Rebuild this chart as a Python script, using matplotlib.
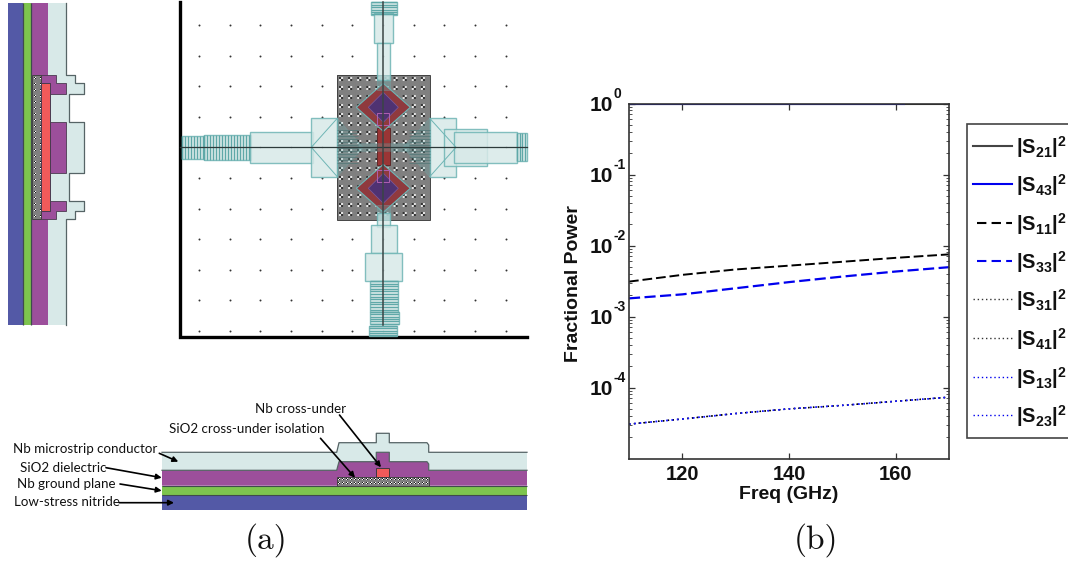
import numpy as np
import matplotlib
matplotlib.use("Agg")
import matplotlib.pyplot as plt
from matplotlib.patches import Polygon, Rectangle

plt.rcParams['mathtext.fontset'] = 'custom'
plt.rcParams['mathtext.bf'] = 'Liberation Sans:bold'
plt.rcParams['mathtext.rm'] = 'Liberation Sans:bold'
plt.rcParams['mathtext.default'] = 'bf'

# --- panel (b) data ---
freq = [110, 120, 130, 140, 150, 160, 170]
s21 = [0.995, 0.995, 0.995, 0.995, 0.995, 0.995, 0.995]
s43_freq = [110, 120, 130, 140, 150, 160, 161.5]
s43 = [0.995, 0.995, 0.995, 0.995, 0.995, 0.995, 0.995]
s11 = [3.1e-3, 3.86e-3, 4.6e-3, 5.2e-3, 5.9e-3, 6.7e-3, 7.5e-3]
s33 = [1.8e-3, 2.05e-3, 2.5e-3, 3.05e-3, 3.65e-3, 4.3e-3, 4.95e-3]
s31 = [3.05e-5, 3.6e-5, 4.3e-5, 5.0e-5, 5.6e-5, 6.4e-5, 7.3e-5]
s41 = [3.05e-5, 3.6e-5, 4.3e-5, 5.0e-5, 5.6e-5, 6.4e-5, 7.3e-5]
s13 = [3.05e-5, 3.6e-5, 4.3e-5, 5.0e-5, 5.6e-5, 6.4e-5, 7.3e-5]
s23 = [3.05e-5, 3.6e-5, 4.3e-5, 5.0e-5, 5.6e-5, 6.4e-5, 7.3e-5]
y_ticks = [1e-4, 1e-3, 1e-2, 1e-1, 1]
y_exponents = ['-4', '-3', '-2', '-1', '0']
legend_names = ['21', '43', '11', '33', '31', '41', '13', '23']
legend_y = [146, 184, 222.7, 261, 299, 338, 376.7, 415]
legend_colors = ['#444444', '#0000ee', 'black', '#0000ee', '#333333', '#333333', '#0000ee', '#0000ee']
legend_styles = ['-', '-', (0, (4.5, 2.5)), (0, (4.5, 2.5)), (0, (1, 2)), (0, (1, 2)), (0, (1, 2)), (0, (1, 2))]

# --- panel (a) colours and labels ---
BLUE = '#5359a6'
GREEN = '#7dc44e'
PURPLE = '#9c4f9b'
RED = '#f15a5a'
PALE = '#d8e9e8'
EDGE = '#566466'
TEAL = '#6fb5b5'

# side cross-section (pixel outlines)
side_pale = [(48, 2.5), (65.5, 2.5), (65.5, 75), (74.5, 75), (74.5, 83), (84, 83), (84, 93.5),
             (68.5, 93.5), (68.5, 121.5), (77, 121.5), (77, 122), (84, 122), (84, 173), (68.5, 173),
             (68.5, 201), (83.5, 201), (83.5, 211), (74.5, 211), (74.5, 219), (65.5, 219),
             (65.5, 325), (48, 325)]
side_purple_top = [(41, 75), (55.5, 75), (55.5, 83), (65.5, 83), (65.5, 93.5), (50, 93.5), (50, 83), (41, 83)]
side_purple_mid = [(50, 122), (65.5, 122), (65.5, 173), (50, 173)]
side_purple_low = [(50, 201), (65.5, 201), (65.5, 211), (55.5, 211), (55.5, 219), (41, 219), (41, 211), (50, 211)]

# bottom cross-section
low_pale = [(162, 452.3), (336.7, 452.3), (339, 442.7), (376.3, 442.7), (376.3, 433.3), (389.3, 433.3),
            (389.3, 442.7), (427, 442.7), (428.7, 445), (428.7, 452.3), (527, 452.3), (527, 470.3), (162, 470.3)]
low_purple = [(162, 470.3), (336.7, 470.3), (339, 461.7), (376.3, 461.7), (376.3, 452.3), (389.3, 452.3),
              (389.3, 461.7), (427, 461.7), (428.7, 464), (428.7, 470.3), (527, 470.3), (527, 485.7), (162, 485.7)]

# top view feed sections (x0, y0, x1, y1)
feed_boxes = [(182, 136, 204.3, 159.3), (204.3, 135.3, 251, 160), (250.3, 132.3, 313.3, 162.7),
              (311.3, 118.3, 337.3, 176.7), (429.7, 118.3, 456, 176.7), (444.3, 129.3, 486.7, 166.3),
              (454.3, 132.3, 516.7, 162.7), (517.3, 133.3, 527, 161.3), (371.3, 2.3, 396.7, 15.3),
              (374.3, 13.3, 392.7, 42.7), (377.3, 42.7, 390, 80), (377.3, 213.3, 390, 226.7),
              (371.3, 225.3, 396.7, 253.3), (365.3, 253.3, 402.3, 281), (370, 281, 398, 311.7),
              (370, 311.7, 398.7, 324), (368.7, 325.7, 396.7, 336)]
vertical_combs = [(182, 136, 204.3, 159.3, 3.0), (204.3, 135.3, 251, 160, 3.0), (517.3, 133.3, 527, 161.3, 2.5)]
horizontal_combs = [(370, 281, 398, 311.7, 2.6), (370, 311.7, 398.7, 324, 2.4), (368.7, 325.7, 396.7, 336, 2.4),
                    (371.3, 2.3, 396.7, 15.3, 2.4)]
diamond_centers = [(383.3, 107.3), (383.3, 188.3)]

# annotations for the bottom cross-section
layer_labels = [('Nb microstrip conductor', 13.3, 449), ('SiO2 dielectric', 19.5, 467.7),
                ('Nb ground plane', 17.3, 484.3), ('Low-stress nitride', 14.3, 501.7),
                ('SiO2 cross-under isolation', 169, 429.3), ('Nb cross-under', 255, 409.3)]
layer_arrows = [((159.3, 453.3), (178.3, 461.7)), ((106, 467.7), (161.7, 477.7)), ((120, 484), (161.7, 490.7)),
                ((119.3, 502.7), (174, 502.7)), ((320.5, 438.3), (355, 477.7)), ((339.5, 415), (381, 467.3))]


def checker(ax, x0, y0, x1, y1, period, cell, dark=0.2, light=0.9):
    # grey patch with little black and white checks, as the layout tool draws it
    tile = np.full((period, period), 0.5)
    start = (period - 2 * cell) // 2
    for i in range(2 * cell):
        for j in range(2 * cell):
            tile[start + i, start + j] = light if (i // cell + j // cell) % 2 else dark
    h = int(round(y1 - y0))
    w = int(round(x1 - x0))
    img = np.tile(tile, (h // period + 1, w // period + 1))
    ax.imshow(img[:h, :w], extent=(x0, x1, y1, y0), cmap='gray', vmin=0, vmax=1,
              interpolation='bilinear', aspect='auto', zorder=3)
    ax.add_patch(Rectangle((x0, y0), x1 - x0, y1 - y0, fill=False, ec='#444444', lw=0.7, zorder=3.1))


def draw_side(ax):
    ax.add_patch(Rectangle((8, 2.5), 14.5, 322.5, fc=BLUE, ec='none', zorder=2))
    ax.add_patch(Rectangle((31, 2.5), 17, 322.5, fc=PURPLE, ec='none', zorder=2))
    ax.add_patch(Rectangle((22.5, 2.5), 8.5, 322.5, fc=GREEN, ec='none', zorder=2))
    ax.vlines([22.5, 31], 2.5, 325, color='#3f4a4c', lw=0.9, zorder=2.1)
    ax.add_patch(Polygon(side_pale, fc=PALE, ec='none', zorder=2))
    xs, ys = zip(*side_pale[1:-1])
    ax.plot(xs, ys, color=EDGE, lw=0.9, zorder=2.1)
    for outline in [side_purple_top, side_purple_mid, side_purple_low]:
        ax.add_patch(Polygon(outline, fc=PURPLE, ec='#4a3a50', lw=0.6, zorder=2.5))
    checker(ax, 32, 75, 41, 219, 6, 1, dark=0.1, light=1.0)
    ax.add_patch(Rectangle((41, 83), 9, 128, fc=RED, ec='#4a3a50', lw=0.7, zorder=4))


def draw_top(ax):
    ax.plot([180, 180, 527], [2, 337, 337], color='black', lw=2.4, zorder=2, solid_joinstyle='miter')
    dots_x = [199 + 30.67 * i for i in range(11)]
    dots_y = [25 + 30.6 * i for i in range(11)]
    gx, gy = np.meshgrid(dots_x, dots_y)
    ax.scatter(gx.ravel(), gy.ravel(), s=2.0, color='#333333', lw=0, zorder=2)
    checker(ax, 337.3, 75, 429.7, 219.7, 9, 2)

    # capacitor pads and the cross-under strip
    ax.add_patch(Rectangle((377.3, 128), 12.7, 37, fc='#9a3535', ec='#5a2020', lw=0.6, zorder=4))
    for cx, cy in diamond_centers:
        ax.add_patch(Polygon([(cx - 27, cy), (cx, cy - 24), (cx + 27, cy), (cx, cy + 24)],
                             fc='#8f3a3e', ec=TEAL, lw=0.8, zorder=4))
        ax.add_patch(Polygon([(cx - 15, cy), (cx, cy - 15), (cx + 15, cy), (cx, cy + 15)],
                             fc='#4f3272', ec='#7a5aa0', lw=0.5, zorder=4.1))
        ax.add_patch(Rectangle((cx - 6, cy + (6 if cy < 150 else -18)), 12, 12, fc='none',
                               ec='#b060b0', lw=0.7, zorder=4.2))

    # microstrip sections on top, see-through
    for x0, y0, x1, y1 in feed_boxes:
        ax.add_patch(Rectangle((x0, y0), x1 - x0, y1 - y0, fc=PALE, ec=TEAL, lw=1.0, alpha=0.85, zorder=5))
    for x0, y0, x1, y1, step in vertical_combs:
        ax.vlines(np.arange(x0, x1, step), y0, y1, color='#5fa8a8', lw=1.0, zorder=5.1)
    for x0, y0, x1, y1, step in horizontal_combs:
        ax.hlines(np.arange(y0, y1, step), x0, x1, color='#5fa8a8', lw=1.0, zorder=5.1)

    # tapers running in over the grey patch
    ax.add_patch(Polygon([(337.3, 118.3), (363, 147.3), (337.3, 176.7)], fc=TEAL, ec=TEAL, lw=0.7, alpha=0.25, zorder=5))
    ax.add_patch(Polygon([(429.7, 118.3), (403, 147.3), (429.7, 176.7)], fc=TEAL, ec=TEAL, lw=0.7, alpha=0.25, zorder=5))
    ax.hlines(np.arange(130, 166, 3), 337.3, 358, color='#4f7575', lw=0.6, alpha=0.8, zorder=5.1)
    ax.hlines(np.arange(130, 166, 3), 409, 429.7, color='#4f7575', lw=0.6, alpha=0.8, zorder=5.1)
    ax.add_patch(Rectangle((358, 143), 51, 8, fc=TEAL, ec='#4f8585', lw=0.5, alpha=0.3, zorder=5))
    ax.plot([337.3, 311.3, 337.3], [118.3, 147.3, 176.7], color=TEAL, lw=0.7, zorder=5.2)
    ax.plot([429.7, 456, 429.7], [118.3, 147.3, 176.7], color=TEAL, lw=0.7, zorder=5.2)
    ax.add_patch(Rectangle((377.3, 75), 12.7, 15, fc=TEAL, ec=TEAL, lw=0.7, alpha=0.3, zorder=5))
    ax.add_patch(Rectangle((377.3, 205), 12.7, 15, fc=TEAL, ec=TEAL, lw=0.7, alpha=0.3, zorder=5))

    # centre lines
    ax.plot([180, 527], [147.2, 147.2], color='#2c3a3a', lw=0.9, zorder=6)
    ax.plot([383, 383], [2, 325], color='#3a4545', lw=1.1, zorder=6)


def draw_bottom(ax):
    ax.add_patch(Rectangle((162, 495.3), 365, 14.7, fc=BLUE, ec='none', zorder=2))
    ax.add_patch(Rectangle((162, 485.7), 365, 9.6, fc=GREEN, ec='none', zorder=2))
    ax.hlines([485.7, 495.3], 162, 527, color='#3f4a4c', lw=0.8, zorder=2.3)
    ax.add_patch(Polygon(low_pale, fc=PALE, ec='none', zorder=2))
    xs, ys = zip(*low_pale[:-2])
    ax.plot(xs, ys, color=EDGE, lw=0.9, zorder=2.1)
    ax.add_patch(Polygon(low_purple, fc=PURPLE, ec='none', zorder=2.2))
    xs, ys = zip(*low_purple[:-2])
    ax.plot(xs, ys, color=EDGE, lw=0.9, zorder=2.3)
    checker(ax, 336.7, 476.7, 428.7, 485.7, 4, 1, dark=0.1, light=1.0)
    ax.add_patch(Rectangle((376.3, 467.7), 13, 9, fc=RED, ec='#3f3a40', lw=0.7, zorder=4))
    for text, x, y in layer_labels:
        ax.text(x, y, text, fontsize=9.6, family='Lato', color='#111111', va='center', ha='left', zorder=7)
    for start, end in layer_arrows:
        ax.annotate('', xy=end, xytext=start, zorder=7,
                    arrowprops=dict(arrowstyle='-|>', color='black', lw=1.2, mutation_scale=8, shrinkA=0, shrinkB=0))


fig = plt.figure(figsize=(10.68, 5.61), dpi=100)

# whole figure axes in pixels for the layout drawings
bg = fig.add_axes([0, 0, 1, 1])
bg.axis('off')
draw_side(bg)
draw_top(bg)
draw_bottom(bg)
bg.set_xlim(0, 1068)
bg.set_ylim(561, 0)
bg.text(266.5, 540, '(a)', family='cmr10', fontsize=24, ha='center', va='center', color='#111111')
bg.text(816, 540, '(b)', family='cmr10', fontsize=24, ha='center', va='center', color='#111111')

# legend box is cut by the right edge, as in the source
bg.add_patch(Rectangle((967, 124), 120, 314, fc='white', ec='#444444', lw=1.2, zorder=2))
for name, y, color, style in zip(legend_names, legend_y, legend_colors, legend_styles):
    x0 = 977 if name in ('11', '33') else 973
    lw = 1.0 if name in ('31', '41', '13', '23') else 1.5
    bg.plot([x0, 1012], [y, y], color=color, ls=style, lw=lw, zorder=3)
    bg.text(1016, y + 1, r'$|S_{%s}|^2$' % name, fontsize=14.5, ha='left', va='center', color='#111111', zorder=3)

# panel (b)
ax = fig.add_axes([629 / 1068, 1 - 458.5 / 561, 320 / 1068, 355 / 561])
ax.plot(freq, s21, color='#222222', lw=1.5)
ax.plot(s43_freq, s43, color='#0000ee', lw=1.5)
ax.plot(freq, s11, color='black', ls=(0, (5, 2)), lw=1.4)
ax.plot(freq, s33, color='#0000ee', ls=(0, (5, 2)), lw=1.6)
ax.plot(freq, s31, color='black', ls=(0, (1, 2.5)), lw=1.0)
ax.plot(freq, s41, color='black', ls=(0, (1, 2.5)), lw=1.0)
ax.plot(freq, s13, color='#1a1aff', ls=(0, (1, 2.5)), lw=1.1)
ax.plot(freq, s23, color='#1a1aff', ls=(0, (1, 2.5)), lw=1.1)
ax.set_yscale('log')
ax.set_xlim(110, 170)
ax.set_ylim(1e-5, 1)
ax.set_xticks([120, 140, 160])
ax.set_xticklabels(['120', '140', '160'], fontsize=14.5, family='Liberation Sans', fontweight='bold', color='#111111')
ax.set_yticks(y_ticks)
ax.set_yticklabels(['10'] * len(y_ticks), fontsize=15, family='Liberation Sans', fontweight='bold', color='#111111')
ax.tick_params(which='both', direction='in', top=True, right=True, color='#333333')
ax.tick_params(which='major', length=4, width=0.9)
ax.tick_params(which='minor', length=2, width=0.6)
ax.tick_params(axis='x', which='major', pad=5)
ax.tick_params(axis='y', which='major', pad=11.5)
for value, exponent in zip(y_ticks, y_exponents):
    ax.annotate(exponent, xy=(0, value), xycoords=('axes fraction', 'data'), xytext=(-11.5, 6.5),
                textcoords='offset points', fontsize=10, family='Liberation Sans', fontweight='bold',
                ha='left', va='center', color='#111111', annotation_clip=False)
ax.set_xlabel('Freq (GHz)', fontsize=14, family='Liberation Sans', fontweight='bold', color='#111111', labelpad=1)
ax.set_ylabel('Fractional Power', fontsize=14, family='Liberation Sans', fontweight='bold', color='#111111')
ax.yaxis.set_label_coords(-47 / 320, 0.493)
for spine in ax.spines.values():
    spine.set_linewidth(1.2)
    spine.set_color('#333333')

fig.savefig('out.png', dpi=100)
